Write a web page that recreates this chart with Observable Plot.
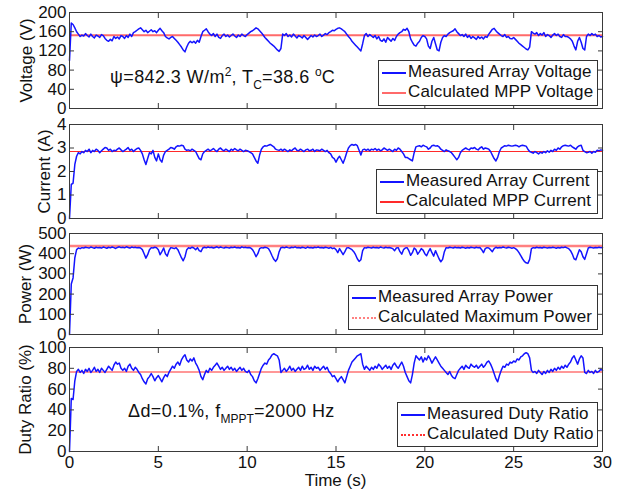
<!DOCTYPE html>
<html>
<head>
<meta charset="utf-8">
<script src="https://cdn.jsdelivr.net/npm/d3@7"></script>
<script src="https://cdn.jsdelivr.net/npm/@observablehq/plot@0.6"></script>
<style>
  html, body { margin: 0; padding: 0; background: #fff; }
  #chart { position: relative; width: 623px; height: 493px; overflow: hidden;
           font-family: "Liberation Sans", Arial, Helvetica, sans-serif; color: #111; }
  #chart svg { position: absolute; left: 0; overflow: visible; }
  .legend { position: absolute; background: #fff; border: 1px solid #333; box-sizing: border-box;
            font-size: 17px; letter-spacing: 0.1px; }
  .row { position: absolute; left: 0; height: 20px; line-height: 20px; white-space: nowrap; }
  .sample { position: absolute; left: 3px; width: 24px; top: 10px; }
  .row span.t { position: absolute; left: 29px; top: 0; }
  .note { position: absolute; font-size: 18px; letter-spacing: 0.4px; white-space: nowrap; line-height: 20px; }
  .note sup { font-size: 12px; vertical-align: 7px; line-height: 0; letter-spacing: 0; }
  .note sub { font-size: 12px; vertical-align: -6px; line-height: 0; letter-spacing: 0; }
</style>
</head>
<body>
<div id="chart"></div>
<script>
const sampleStep = 0.1; // seconds between samples
const xTicks = [0, 5, 10, 15, 20, 25, 30];

const voltageTicks = [0, 40, 80, 120, 160, 200];
const currentTicks = [0, 1, 2, 3, 4];
const powerTicks = [0, 100, 200, 300, 400, 500];
const dutyTicks = [0, 20, 40, 60, 80, 100];

const mppVoltage = 152.5;
const mppCurrent = 2.85;
const maxPower = 438;
const calcDuty = 76.5;

const voltage = [
100,178,175,168,160,155,150,153,151,156,
152,149,155,150,147,153,151,148,154,152,
146,142,140,144,141,150,146,149,145,152,
150,146,152,148,155,150,158,160,163,166,
168,164,160,163,158,161,164,160,162,158,
163,167,162,158,150,147,145,148,150,146,
142,138,133,128,122,118,128,136,140,137,
140,136,142,138,150,160,163,166,160,155,
152,156,150,155,148,146,152,155,150,153,
149,152,155,151,148,153,150,155,152,150,
154,157,160,162,165,168,166,162,158,153,
148,144,140,136,133,130,126,122,119,125,
155,152,156,150,153,149,155,151,147,152,
150,147,152,148,144,148,152,149,153,150,
152,155,150,153,156,154,158,160,163,162,
165,167,168,166,163,160,155,150,146,140,
136,132,128,124,120,135,152,156,150,154,
151,148,152,145,150,142,140,145,138,148,
144,140,146,142,150,155,158,160,165,163,
167,160,145,138,132,130,136,140,148,152,
150,145,130,125,140,148,135,122,120,138,
148,152,150,155,158,160,162,166,160,156,
152,154,150,155,148,152,146,150,147,144,
150,146,149,145,150,148,155,160,165,167,
162,158,155,152,150,154,148,150,146,145,
148,144,140,136,133,130,127,124,122,128,
160,157,155,158,152,156,153,158,150,154,
152,148,153,156,152,155,150,148,154,150,
150,148,145,140,130,122,140,148,138,125,
122,150,155,152,156,153,155,150,152,149,
150];

const current = [
0,1.45,1.5,2.3,2.65,2.8,2.75,2.85,2.8,2.9,
2.85,2.95,2.8,2.9,2.85,2.95,2.9,2.8,2.88,2.95,
3.02,3.0,2.9,2.95,2.85,2.9,2.88,2.95,3.0,2.92,
2.85,2.9,2.95,3.02,2.9,2.95,2.85,2.92,2.98,3.0,
2.9,2.75,2.5,2.3,2.55,2.8,2.75,2.9,2.6,2.45,
2.75,2.5,2.4,2.7,2.85,2.9,2.95,3.02,3.0,2.95,
3.05,3.1,3.08,3.12,3.1,2.95,2.9,2.92,2.88,2.95,
2.9,2.85,2.7,2.55,2.5,2.75,2.85,2.9,2.95,2.88,
2.92,2.98,2.9,2.85,2.95,3.0,2.92,2.88,2.95,2.9,
2.85,2.95,2.9,2.98,2.92,2.88,2.95,2.9,2.85,2.9,
2.88,2.85,2.8,2.75,2.6,2.45,2.35,2.7,2.95,3.05,
3.1,3.08,3.12,3.15,3.1,3.05,2.95,2.92,2.9,2.95,
2.88,2.95,2.9,2.85,2.92,2.88,2.95,3.0,2.9,2.88,
2.95,2.9,2.85,2.92,2.95,2.88,2.9,2.95,2.85,2.92,
2.9,2.88,2.95,2.9,2.85,2.9,2.8,2.75,2.6,2.55,
2.4,2.55,2.65,2.5,2.35,2.55,2.8,3.0,3.1,3.15,
3.12,3.15,3.1,2.9,2.7,2.92,2.95,2.9,2.95,2.88,
2.95,2.92,2.98,2.9,2.95,2.88,2.92,3.0,2.95,2.9,
2.95,2.9,2.85,2.95,2.9,3.0,2.95,2.85,2.75,2.6,
2.6,2.55,2.5,2.45,2.8,3.05,3.08,3.1,3.05,3.12,
3.08,3.05,2.95,3.0,3.1,3.12,3.08,3.1,3.05,2.95,
2.9,2.85,2.92,2.88,2.85,2.8,2.7,2.6,2.5,2.6,
2.8,2.9,2.95,3.0,2.95,2.92,3.0,2.98,3.02,2.95,
2.92,3.0,3.05,2.95,3.0,2.98,2.95,2.85,2.7,2.55,
2.45,2.6,2.85,3.0,3.05,3.1,3.08,3.12,3.1,3.08,
3.1,3.12,3.1,3.05,3.1,3.12,3.1,3.08,2.95,2.85,
2.82,2.78,2.85,2.8,2.75,2.82,2.78,2.85,2.8,2.88,
2.82,2.9,2.85,2.95,2.9,3.0,2.95,3.05,3.1,3.12,
3.1,3.08,3.12,3.05,3.0,2.95,3.05,3.1,3.12,2.9,
2.85,2.8,2.82,2.85,2.78,2.85,2.82,2.9,2.88,2.92,
2.9];

const power = [
0,250,280,380,420,428,425,430,428,432,
430,428,433,430,427,432,429,431,428,433,
430,427,432,429,433,430,426,431,434,430,
432,429,434,431,428,433,430,432,429,431,
428,420,400,378,395,420,430,428,432,430,
420,395,410,428,400,388,415,430,428,425,
430,420,400,380,365,385,420,430,426,432,
428,420,430,415,410,428,432,429,433,430,
432,428,431,434,429,433,430,428,432,430,
428,432,430,433,429,431,428,434,430,432,
429,431,428,420,405,385,400,425,430,428,
432,430,425,410,390,372,362,375,410,430,
432,429,433,430,428,432,430,434,429,431,
428,432,430,427,433,429,431,428,432,430,
433,429,431,428,432,430,427,431,425,428,
420,405,425,410,395,410,428,430,425,420,
410,395,375,362,370,415,430,428,432,430,
428,432,429,431,428,433,430,428,432,429,
431,428,425,415,428,430,410,398,420,428,
430,415,392,405,428,420,398,410,425,418,
400,390,410,425,405,388,415,395,375,360,
372,410,430,428,432,430,428,432,429,431,
428,432,430,427,431,428,432,430,428,432,
429,431,420,405,425,430,428,420,410,425,
432,428,431,429,433,430,428,432,430,427,
430,425,418,405,390,375,362,355,352,372,
425,430,428,432,429,431,428,432,430,428,
431,429,432,430,427,431,428,432,430,433,
429,425,415,398,375,370,395,420,410,385,
372,400,428,432,430,428,431,429,432,430,
431];

const duty = [
0,51,50,68,77,79,76,78,75,79,
77,80,76,78,81,77,79,76,80,78,
76,79,82,80,78,83,86,84,85,80,
78,80,77,82,84,80,78,81,79,76,
74,70,67,65,70,72,75,72,68,71,
73,70,67,71,74,72,76,79,82,80,
84,86,83,88,91,93,88,86,89,87,
90,85,82,78,72,69,74,78,76,80,
78,81,83,85,82,79,81,78,80,82,
79,81,78,80,77,79,81,78,80,77,
76,78,74,72,68,66,70,75,80,83,
85,84,88,90,93,94,93,92,88,76,
78,80,77,79,82,78,80,77,79,81,
78,82,79,80,83,79,81,78,82,80,
81,78,80,82,79,81,77,75,72,73,
70,67,70,72,69,66,72,78,82,86,
88,90,92,93,94,84,79,82,80,78,
81,79,82,80,84,82,79,81,83,80,
82,79,83,85,82,80,83,86,82,76,
72,68,66,74,85,92,90,88,91,86,
90,88,92,89,85,88,91,88,85,82,
80,78,76,74,77,73,71,70,74,78,
80,82,79,83,81,80,84,82,81,83,
80,82,84,81,83,86,87,84,80,75,
70,67,73,78,82,81,84,83,86,85,
87,86,89,88,91,92,94,95,94,90,
78,76,77,75,78,76,74,77,75,78,
76,79,77,80,78,81,79,82,80,83,
81,84,86,90,92,88,84,89,92,90,
76,75,78,76,77,75,78,76,77,79,
78];

const yLabels = ["Voltage (V)", "Current (A)", "Power (W)", "Duty Ratio (%)"];
const legendMeasured = ["Measured Array Voltage", "Measured Array Current", "Measured Array Power", "Measured Duty Ratio"];
const legendCalculated = ["Calculated MPP Voltage", "Calculated MPP Current", "Calculated Maximum Power", "Calculated Duty Ratio"];

// ---------------- LAYOUT / STYLE ----------------
const W = 623, mL = 69, mR = 21;
const layout = [
  {top: 12,  h: 96,  labelX: 26, red: "#ff6a6a", redW: 2,   dotted: false,
   legend: {left: 378, top: 60, w: 220, h: 46}},
  {top: 124, h: 94,  labelX: 44, red: "#ff2a2a", redW: 1.1, dotted: false,
   legend: {left: 376, top: 169, w: 222, h: 45}},
  {top: 233, h: 101, labelX: 25, red: "#ff8080", redW: 2.4, dotted: true,
   legend: {left: 348, top: 285, w: 250, h: 45}},
  {top: 347, h: 104, labelX: 25, red: "#ff3030", redW: 1.1, dotted: true,
   legend: {left: 397, top: 402, w: 201, h: 45}}
];

const series = [voltage, current, power, duty];
const calcs = [mppVoltage, mppCurrent, maxPower, calcDuty];
const yTickSets = [voltageTicks, currentTicks, powerTicks, dutyTicks];
const time = voltage.map((_, i) => +(i * sampleStep).toFixed(1));
const plain = d => `${d}`;

const chart = document.getElementById("chart");
const frameColor = "#3a3a3a";

layout.forEach((L, k) => {
  const last = k === 3;
  const mt = 6, mb = last ? (493 - L.top - L.h) : 6;
  const ticks = yTickSets[k];
  const ymax = ticks[ticks.length - 1];
  const marks = [
    Plot.ruleY([calcs[k]], {stroke: L.red, strokeWidth: L.redW}),
    Plot.lineY(series[k], {x: time, stroke: "#1414ff", strokeWidth: 1.5, strokeLinejoin: "round"}),
    Plot.frame({stroke: frameColor, strokeWidth: 1}),
    // inward ticks on all four sides
    Plot.axisY({ticks, anchor: "left", tickSize: -5, tickFormat: () => "", label: null, stroke: frameColor}),
    Plot.axisY({ticks, anchor: "right", tickSize: -5, tickFormat: () => "", label: null, stroke: frameColor}),
    Plot.axisX({ticks: xTicks, anchor: "top", tickSize: -5, tickFormat: () => "", label: null, stroke: frameColor}),
    Plot.axisX({ticks: xTicks, anchor: "bottom", tickSize: -5, tickFormat: () => "", label: null, stroke: frameColor}),
    // y tick labels
    Plot.axisY({ticks, anchor: "left", tickSize: 0, tickPadding: 3, tickFormat: plain, label: null, fill: "#111"}),
    // y title
    Plot.text([yLabels[k]], {frameAnchor: "left", textAnchor: "middle", lineAnchor: "middle",
                             dx: L.labelX - mL, rotate: -90, fontSize: 17, fill: "#111"})
  ];
  if (last) {
    marks.push(Plot.axisX({ticks: xTicks, anchor: "bottom", tickSize: 0, tickPadding: 4, tickFormat: plain, label: null, fill: "#111"}));
    marks.push(Plot.text(["Time (s)"], {frameAnchor: "bottom", textAnchor: "middle", lineAnchor: "middle",
                                        dx: 335 - (mL + (W - mL - mR) / 2), dy: 29, fontSize: 17, fill: "#111"}));
  }
  const svg = Plot.plot({
    width: W, height: L.h + mt + mb,
    marginLeft: mL, marginRight: mR, marginTop: mt, marginBottom: mb,
    x: {domain: [0, 30]},
    y: {domain: [0, ymax]},
    style: {fontFamily: '"Liberation Sans", Arial, Helvetica, sans-serif', fontSize: "17px", background: "transparent", color: "#111"},
    marks
  });
  svg.style.top = (L.top - mt) + "px";
  chart.appendChild(svg);

  // legend
  const lg = document.createElement("div");
  lg.className = "legend";
  Object.assign(lg.style, {left: L.legend.left + "px", top: L.legend.top + "px", width: L.legend.w + "px", height: L.legend.h + "px"});
  const redSample = L.dotted
    ? `border-top: 2px dotted ${L.red};`
    : `border-top: 2px solid ${L.red};`;
  lg.innerHTML =
    `<div class="row" style="top:1px;width:100%"><div class="sample" style="border-top:2px solid #1414ff"></div><span class="t">${legendMeasured[k]}</span></div>` +
    `<div class="row" style="top:21px;width:100%"><div class="sample" style="${redSample}"></div><span class="t">${legendCalculated[k]}</span></div>`;
  chart.appendChild(lg);
});

// annotations
const n1 = document.createElement("div");
n1.className = "note";
n1.style.left = "110px"; n1.style.top = "67px";
n1.innerHTML = "ψ=842.3 W/m<sup>2</sup>, T<sub>C</sub>=38.6 <sup>o</sup>C";
chart.appendChild(n1);

const n2 = document.createElement("div");
n2.className = "note";
n2.style.left = "128px"; n2.style.top = "401px";
n2.innerHTML = "Δd=0.1%, f<sub>MPPT</sub>=2000 Hz";
chart.appendChild(n2);
</script>
</body>
</html>
